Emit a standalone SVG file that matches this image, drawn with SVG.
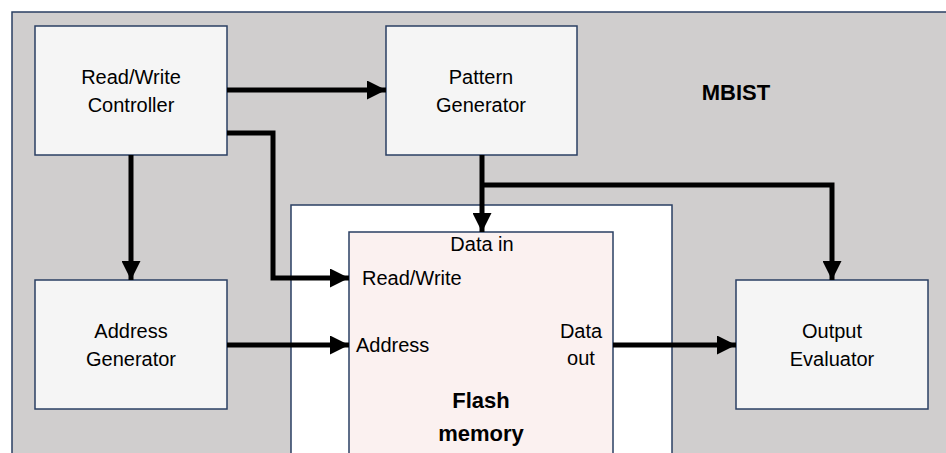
<svg xmlns="http://www.w3.org/2000/svg" width="946" height="453" viewBox="0 0 946 453">
<defs>
<style>
.box{fill:#f5f5f5;stroke:#2a3f63;stroke-width:1.5}
.t{font-family:"Liberation Sans",Arial,sans-serif;font-size:20px;fill:#000}
.b{font-family:"Liberation Sans",Arial,sans-serif;font-size:22px;font-weight:bold;fill:#000}
.c{fill:none;stroke:#000;stroke-width:5;stroke-linejoin:miter}
</style>
<marker id="ah" markerUnits="userSpaceOnUse" markerWidth="19" markerHeight="19" refX="19" refY="9.5" orient="auto">
<path d="M0,0 L19,9.5 L0,19 z" fill="#000"/>
</marker>
</defs>
<rect width="946" height="453" fill="#ffffff"/>
<g id="mbist">
<rect x="12" y="12" width="960" height="470" fill="#d0cece" stroke="#2a3f63" stroke-width="1.5"/>
<text class="b" x="736" y="100" text-anchor="middle">MBIST</text>
</g>
<g id="flash-wrapper">
<rect x="291" y="205" width="381" height="270" fill="#ffffff" stroke="#2a3f63" stroke-width="1.5"/>
</g>
<g id="flash">
<rect x="349" y="232" width="264" height="240" fill="#fbf1f0" stroke="#2a3f63" stroke-width="1.5"/>
<text class="t" x="482" y="251" text-anchor="middle">Data in</text>
<text class="t" x="362" y="285">Read/Write</text>
<text class="t" x="356" y="352">Address</text>
<text class="t" x="581" y="338" text-anchor="middle">Data</text>
<text class="t" x="581" y="365" text-anchor="middle">out</text>
<text class="b" x="481" y="408" text-anchor="middle">Flash</text>
<text class="b" x="481" y="441" text-anchor="middle">memory</text>
</g>
<g id="rw-controller">
<rect class="box" x="35" y="26" width="192" height="129"/>
<text class="t" x="131" y="84" text-anchor="middle">Read/Write</text>
<text class="t" x="131" y="112" text-anchor="middle">Controller</text>
</g>
<g id="pattern-generator">
<rect class="box" x="386" y="26" width="191" height="129"/>
<text class="t" x="481" y="84" text-anchor="middle">Pattern</text>
<text class="t" x="481" y="112" text-anchor="middle">Generator</text>
</g>
<g id="address-generator">
<rect class="box" x="35" y="280" width="192" height="129"/>
<text class="t" x="131" y="338" text-anchor="middle">Address</text>
<text class="t" x="131" y="366" text-anchor="middle">Generator</text>
</g>
<g id="output-evaluator">
<rect class="box" x="736" y="280" width="192" height="129"/>
<text class="t" x="832" y="338" text-anchor="middle">Output</text>
<text class="t" x="832" y="366" text-anchor="middle">Evaluator</text>
</g>
<g id="connectors">
<path class="c" d="M227,90 H386" marker-end="url(#ah)"/>
<path class="c" d="M227,133 H273 V278 H349" marker-end="url(#ah)"/>
<path class="c" d="M131,155 V280" marker-end="url(#ah)"/>
<path class="c" d="M227,345 H349" marker-end="url(#ah)"/>
<path class="c" d="M482,155 V232" marker-end="url(#ah)"/>
<path class="c" d="M482,185 H832 V280" marker-end="url(#ah)"/>
<path class="c" d="M613,345 H736" marker-end="url(#ah)"/>
</g>
</svg>
